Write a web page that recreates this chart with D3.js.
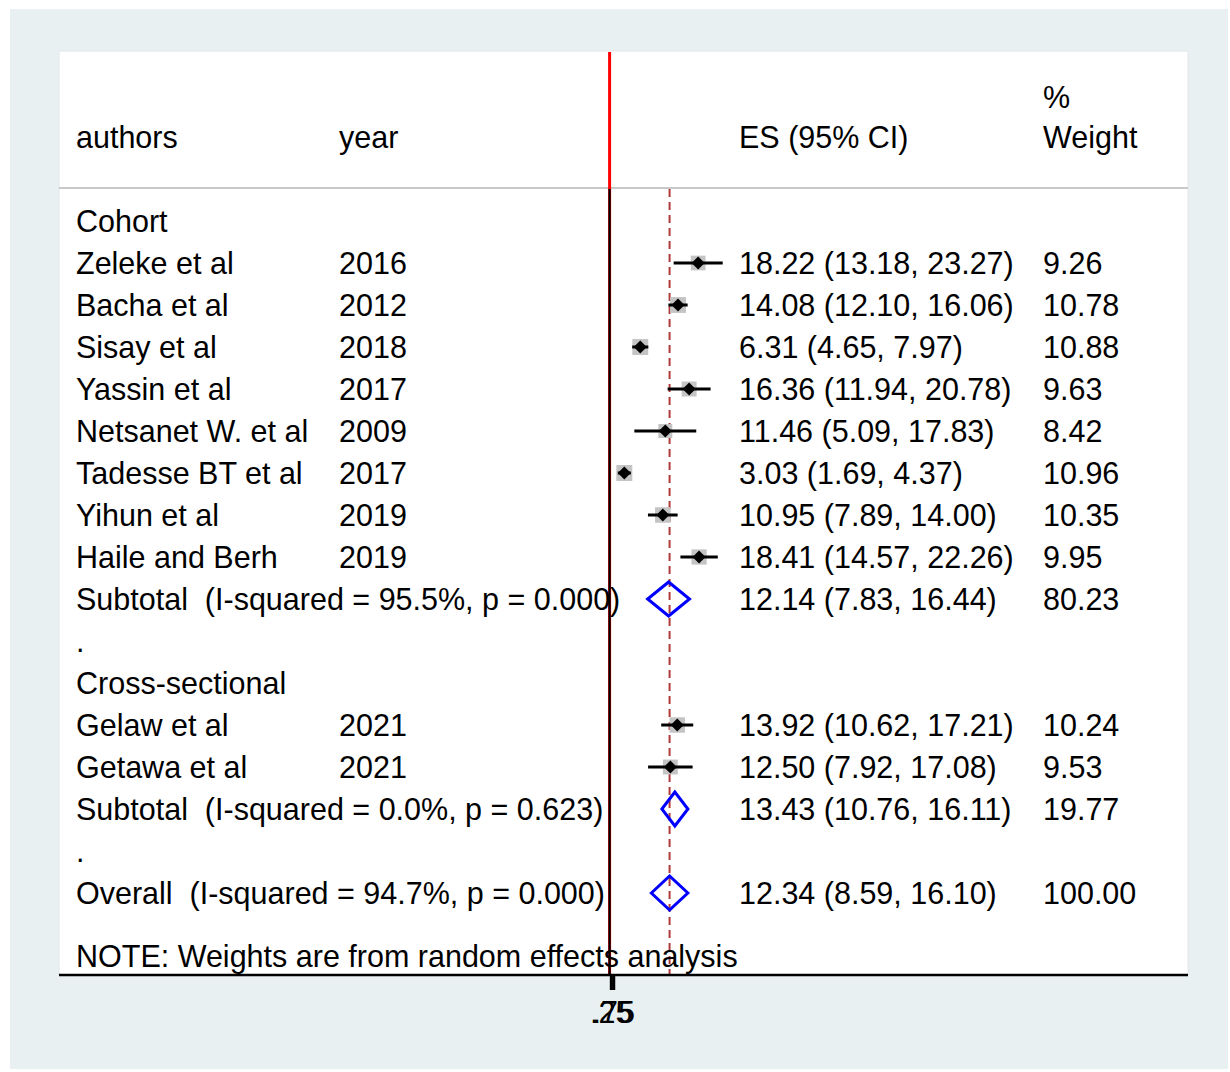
<!DOCTYPE html>
<html>
<head>
<meta charset="utf-8">
<script src="https://cdn.jsdelivr.net/npm/d3@7"></script>
<style>
  html, body { margin: 0; padding: 0; background: #ffffff; }
  svg { display: block; }
  text { font-family: "Liberation Sans", Arial, Helvetica, sans-serif; fill: #000; white-space: pre; }
</style>
</head>
<body>
<svg id="chart" width="1230" height="1072"></svg>
<script>
// Study-level estimates (prevalence, %), grouped by design
const authors = ["Zeleke et al", "Bacha et al", "Sisay et al", "Yassin et al", "Netsanet W. et al",
                 "Tadesse BT et al", "Yihun et al", "Haile and Berh", "Gelaw et al", "Getawa et al"];
const years   = [2016, 2012, 2018, 2017, 2009, 2017, 2019, 2019, 2021, 2021];
const designs = ["Cohort", "Cohort", "Cohort", "Cohort", "Cohort", "Cohort", "Cohort", "Cohort",
                 "Cross-sectional", "Cross-sectional"];
const es      = [18.22, 14.08, 6.31, 16.36, 11.46, 3.03, 10.95, 18.41, 13.92, 12.50];
const lower   = [13.18, 12.10, 4.65, 11.94, 5.09, 1.69, 7.89, 14.57, 10.62, 7.92];
const upper   = [23.27, 16.06, 7.97, 20.78, 17.83, 4.37, 14.00, 22.26, 17.21, 17.08];
const weights = [9.26, 10.78, 10.88, 9.63, 8.42, 10.96, 10.35, 9.95, 10.24, 9.53];

// Subgroup pooled estimates
const groups   = ["Cohort", "Cross-sectional"];
const subES    = [12.14, 13.43];
const subLower = [7.83, 10.76];
const subUpper = [16.44, 16.11];
const subW     = [80.23, 19.77];
const subI2    = ["95.5%", "0.0%"];
const subP     = ["0.000", "0.623"];

// Overall pooled estimate
const overallES = 12.34, overallLower = 8.59, overallUpper = 16.10, overallW = 100.00;
const overallI2 = "94.7%", overallP = "0.000";

// Axis ticks
const tickValues = [0.75, 0.25];
const tickLabels = [".75", ".25"];

const svg = d3.select("#chart");
const FS = 30.5;

// Backgrounds
svg.append("rect").attr("x", 10).attr("y", 9).attr("width", 1218).attr("height", 1060).attr("fill", "#e8f0f2");
svg.append("rect").attr("x", 59).attr("y", 51).attr("width", 1129).attr("height", 924)
   .attr("fill", "#ffffff").attr("stroke", "#e2e6e8").attr("stroke-width", 1);

// Horizontal effect scale
const x = d3.scaleLinear().domain([0, 20]).range([609.6, 609.6 + 4.86 * 20]);
const size = d3.scaleSqrt().domain([0, 11]).range([0, 16]);

// Row layout
const rowStep = 42, firstRow = 221;
const rowY = i => firstRow + rowStep * i;

// Build row list
const rows = [];
groups.forEach((g, gi) => {
  rows.push({ type: "group", label: g });
  designs.forEach((d, i) => { if (d === g) rows.push({ type: "study", i }); });
  rows.push({ type: "sub", gi });
  rows.push({ type: "dot" });
});
rows.push({ type: "overall" });
rows.forEach((r, k) => r.y = rowY(k));

const colAuthor = 76, colYear = 339, colES = 739, colW = 1043;
const fmt = v => v.toFixed(2);
const ci = (e, l, u) => `${fmt(e)} (${fmt(l)}, ${fmt(u)})`;

function txt(s, tx, ty) {
  return svg.append("text").attr("x", tx).attr("y", ty).attr("dy", "0.35em")
    .attr("font-size", FS).attr("xml:space", "preserve").text(s);
}

// Header
txt("authors", colAuthor, 137);
txt("year", colYear, 137);
txt("ES (95% CI)", colES, 137);
txt("%", colW, 97);
txt("Weight", colW, 137);
svg.append("line").attr("x1", 59).attr("x2", 1188).attr("y1", 188).attr("y2", 188)
   .attr("stroke", "#c8c8c8").attr("stroke-width", 2);

// Null line (red through header, black over the plot area)
svg.append("line").attr("x1", x(0)).attr("x2", x(0)).attr("y1", 52).attr("y2", 975)
   .attr("stroke", "#ff0000").attr("stroke-width", 3);
svg.append("line").attr("x1", x(0)).attr("x2", x(0)).attr("y1", 189).attr("y2", 975)
   .attr("stroke", "#000000").attr("stroke-width", 2.2);

// Overall effect dashed line
svg.append("line").attr("x1", x(overallES)).attr("x2", x(overallES)).attr("y1", 189).attr("y2", 975)
   .attr("stroke", "#b03a3a").attr("stroke-width", 2).attr("stroke-dasharray", "8,5");

const marks = svg.append("g");

rows.forEach(r => {
  if (r.type === "group") {
    txt(r.label, colAuthor, r.y);
  } else if (r.type === "study") {
    const i = r.i;
    txt(authors[i], colAuthor, r.y);
    txt(String(years[i]), colYear, r.y);
    txt(ci(es[i], lower[i], upper[i]), colES, r.y);
    txt(fmt(weights[i]), colW, r.y);
    const s = size(weights[i]);
    marks.append("rect").attr("x", x(es[i]) - s / 2).attr("y", r.y - s / 2)
      .attr("width", s).attr("height", s).attr("fill", "#c4c4c4");
    marks.append("line").attr("x1", x(lower[i])).attr("x2", x(upper[i]))
      .attr("y1", r.y).attr("y2", r.y).attr("stroke", "#000").attr("stroke-width", 3);
    const cx = x(es[i]), h = 6.5;
    marks.append("path")
      .attr("d", `M${cx - h},${r.y}L${cx},${r.y - h}L${cx + h},${r.y}L${cx},${r.y + h}Z`)
      .attr("fill", "#000");
  } else if (r.type === "sub") {
    const g = r.gi;
    txt(`Subtotal  (I-squared = ${subI2[g]}, p = ${subP[g]})`, colAuthor, r.y);
    txt(ci(subES[g], subLower[g], subUpper[g]), colES, r.y);
    txt(fmt(subW[g]), colW, r.y);
    drawDiamond(subES[g], subLower[g], subUpper[g], r.y);
  } else if (r.type === "dot") {
    txt(".", colAuthor, r.y);
  } else if (r.type === "overall") {
    txt(`Overall  (I-squared = ${overallI2}, p = ${overallP})`, colAuthor, r.y);
    txt(ci(overallES, overallLower, overallUpper), colES, r.y);
    txt(fmt(overallW), colW, r.y);
    drawDiamond(overallES, overallLower, overallUpper, r.y);
  }
});

function drawDiamond(e, l, u, y) {
  const hh = 17;
  marks.append("path")
    .attr("d", `M${x(l)},${y}L${x(e)},${y - hh}L${x(u)},${y}L${x(e)},${y + hh}Z`)
    .attr("fill", "none").attr("stroke", "#0000ff").attr("stroke-width", 3)
    .attr("stroke-linejoin", "miter");
}

// Footnote
txt("NOTE: Weights are from random effects analysis", colAuthor, 956);

// Bottom axis
svg.append("line").attr("x1", 59).attr("x2", 1188).attr("y1", 975).attr("y2", 975)
   .attr("stroke", "#000").attr("stroke-width", 2.4);
const axis = d3.axisBottom(x).tickValues(tickValues)
  .tickFormat((d, i) => tickLabels[i]).tickSize(15).tickPadding(11);
const ag = svg.append("g").attr("transform", "translate(0,975)").call(axis);
ag.select(".domain").remove();
ag.selectAll(".tick line").attr("stroke", "#000").attr("stroke-width", 3);
ag.selectAll(".tick text").attr("font-size", FS).attr("fill", "#000")
  .attr("font-family", "Liberation Sans, Arial, sans-serif");
</script>
</body>
</html>
